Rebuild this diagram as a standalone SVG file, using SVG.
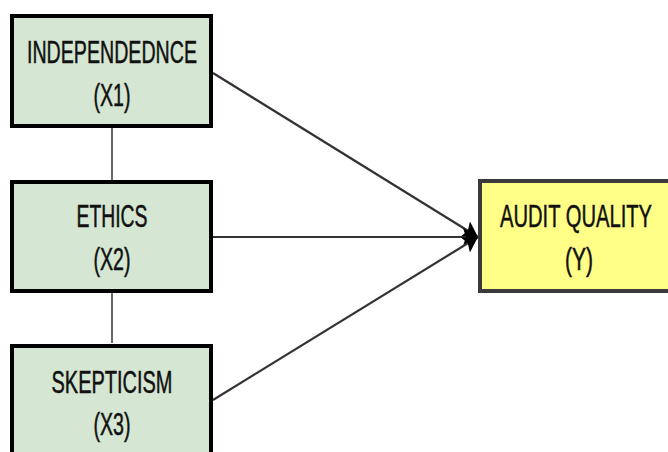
<svg xmlns="http://www.w3.org/2000/svg" width="668" height="452" viewBox="0 0 668 452">
<style>
.bg{fill:#ffffff}
.var{fill:#d5e6d2;stroke:#000;stroke-width:4}
.dep{fill:#ffff88;stroke:#3a3a3a;stroke-width:4}
.t{font-family:"Liberation Sans Narrow","Liberation Sans",Arial,sans-serif;font-size:31px;fill:#111;stroke:#111;stroke-width:0.5;text-anchor:middle}
.link{stroke:#666;stroke-width:2;fill:none}
.arr{stroke:#333;stroke-width:2.2;fill:none}
</style>
<defs>
<marker id="ah" viewBox="0 0 15 18" refX="15" refY="9" markerWidth="15" markerHeight="18" markerUnits="userSpaceOnUse" orient="auto">
<path d="M0,0 L15,9 L0,18 L3,9 Z" fill="#000"/>
</marker>
</defs>
<rect class="bg" x="0" y="0" width="668" height="452"/>
<g id="connectors">
<line class="link" x1="112" y1="128" x2="112" y2="180"/>
<line class="link" x1="112" y1="293" x2="112" y2="343"/>
<line class="arr" x1="213" y1="73" x2="478" y2="237" marker-end="url(#ah)"/>
<line class="arr" x1="213" y1="237" x2="478" y2="237" marker-end="url(#ah)"/>
<line class="arr" x1="213" y1="400" x2="478" y2="237" marker-end="url(#ah)"/>
</g>
<g id="x1">
<rect class="var" x="12" y="16" width="199" height="110"/>
<text class="t" x="112" y="63" textLength="170" lengthAdjust="spacingAndGlyphs">INDEPENDEDNCE</text>
<text class="t" x="112" y="106" textLength="37" lengthAdjust="spacingAndGlyphs">(X1)</text>
</g>
<g id="x2">
<rect class="var" x="12" y="182" width="199" height="109"/>
<text class="t" x="112" y="227" textLength="71" lengthAdjust="spacingAndGlyphs">ETHICS</text>
<text class="t" x="112" y="270" textLength="37" lengthAdjust="spacingAndGlyphs">(X2)</text>
</g>
<g id="x3">
<rect class="var" x="12" y="346" width="199" height="120"/>
<text class="t" x="112" y="393" textLength="121" lengthAdjust="spacingAndGlyphs">SKEPTICISM</text>
<text class="t" x="112" y="435" textLength="37" lengthAdjust="spacingAndGlyphs">(X3)</text>
</g>
<g id="y">
<rect class="dep" x="480" y="181" width="192" height="110"/>
<text class="t" x="576" y="227" textLength="152" lengthAdjust="spacingAndGlyphs">AUDIT QUALITY</text>
<text class="t" x="579" y="270" textLength="28" lengthAdjust="spacingAndGlyphs">(Y)</text>
</g>
</svg>
